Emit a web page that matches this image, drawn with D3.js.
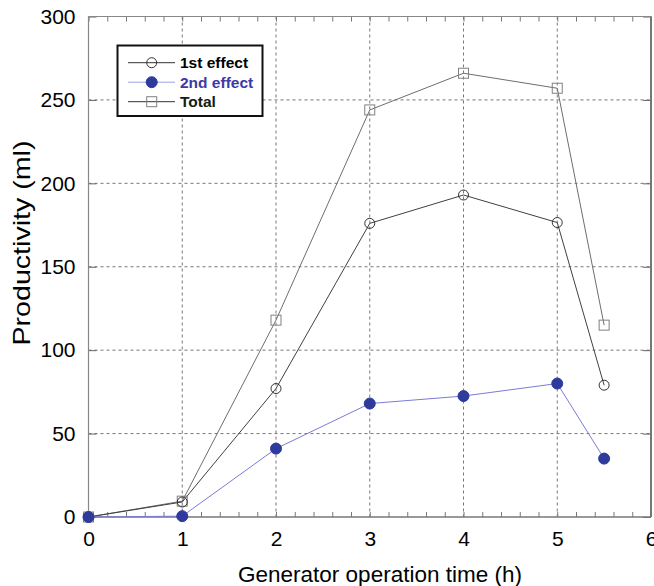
<!DOCTYPE html>
<html><head><meta charset="utf-8">
<script src="https://cdn.jsdelivr.net/npm/d3@7"></script>
<style>body{margin:0;background:#fff}svg{display:block}</style>
</head><body>
<svg id="c" width="654" height="586"></svg>
<script>
const hours = [0, 1, 2, 3, 4, 5, 5.5];
const firstEffect = [0, 9, 77, 176, 193, 176.5, 79];
const secondEffect = [0, 0.5, 41, 68, 72.5, 80, 35];
const total = [0, 9.5, 118, 244, 266, 257, 115];
const xTicks = [0, 1, 2, 3, 4, 5, 6];
const yTicks = [0, 50, 100, 150, 200, 250, 300];
const seriesNames = ["1st effect", "2nd effect", "Total"];

const svg = d3.select("#c");
const L = 88.5, R = 651, T = 16.5, B = 517;
const x = d3.scaleLinear().domain([0, 6]).range([L, R]);
const y = d3.scaleLinear().domain([0, 300]).range([B, T]);
const font = "Liberation Sans, Arial, sans-serif";

// grid
const g = svg.append("g");
g.selectAll(".gx").data(xTicks.slice(1, -1)).enter().append("line")
  .attr("x1", d => x(d)).attr("x2", d => x(d)).attr("y1", T).attr("y2", B)
  .attr("stroke", "#777").attr("stroke-width", 1).attr("stroke-dasharray", "3,3");
g.selectAll(".gy").data(yTicks.slice(1, -1)).enter().append("line")
  .attr("y1", d => y(d)).attr("y2", d => y(d)).attr("x1", L).attr("x2", R)
  .attr("stroke", "#777").attr("stroke-width", 1).attr("stroke-dasharray", "3,3");

// axes via d3
const minor = d3.range(0, 6.001, 0.2);
svg.append("g").attr("transform", `translate(0,${B})`)
  .call(d3.axisTop(x).tickValues(minor).tickSize(5).tickFormat(""))
  .call(s => { s.select(".domain").remove(); s.selectAll("line").attr("stroke", "#777"); });
svg.append("g").attr("transform", `translate(0,${T})`)
  .call(d3.axisBottom(x).tickValues(minor).tickSize(5).tickFormat(""))
  .call(s => { s.select(".domain").remove(); s.selectAll("line").attr("stroke", "#777"); });
svg.append("g").attr("transform", `translate(0,${B})`)
  .call(d3.axisBottom(x).tickValues(xTicks).tickSize(0).tickPadding(14).tickFormat(d3.format("d")))
  .call(s => { s.select(".domain").remove(); s.selectAll("text").attr("font-size", 21).attr("font-family", font).attr("fill", "#000"); });
svg.append("g").attr("transform", `translate(${L},0)`)
  .call(d3.axisRight(y).tickValues(yTicks).tickSize(8).tickFormat(""))
  .call(s => { s.select(".domain").remove(); s.selectAll("line").attr("stroke", "#666"); });
svg.append("g").attr("transform", `translate(${R},0)`)
  .call(d3.axisLeft(y).tickValues(yTicks).tickSize(8).tickFormat(""))
  .call(s => { s.select(".domain").remove(); s.selectAll("line").attr("stroke", "#666"); });
svg.append("g").attr("transform", `translate(${L},0)`)
  .call(d3.axisLeft(y).tickValues(yTicks).tickSize(0).tickPadding(13))
  .call(s => { s.select(".domain").remove(); s.selectAll("text").attr("font-size", 21).attr("font-family", font).attr("fill", "#000"); });

// frame
svg.append("path").attr("d", `M${L},${T}H${R}`).attr("stroke", "#888").attr("stroke-width", 1.2);
svg.append("path").attr("d", `M${L},${B}H${R}`).attr("stroke", "#777").attr("stroke-width", 1.5);
svg.append("path").attr("d", `M${L},${T}V${B}`).attr("stroke", "#888").attr("stroke-width", 1.2);
svg.append("path").attr("d", `M${R},${T}V${B}`).attr("stroke", "#777").attr("stroke-width", 2);

// titles
svg.append("text").attr("x", 380).attr("y", 582).attr("text-anchor", "middle")
  .attr("font-family", font).attr("font-size", 22.5)
  .attr("textLength", 284).attr("lengthAdjust", "spacingAndGlyphs").text("Generator operation time (h)");
svg.append("text").attr("transform", `translate(30,243) rotate(-90)`).attr("text-anchor", "middle")
  .attr("font-family", font).attr("font-size", 24.5)
  .attr("textLength", 205).attr("lengthAdjust", "spacingAndGlyphs").text("Productivity (ml)");

const line = d3.line().x((d, i) => x(hours[i])).y(d => y(d));
const cfg = [
  {data: firstEffect, line: "#404040", leg: "#333", marker: "circle", fill: "#fff", mstroke: "#333", text: "#000"},
  {data: secondEffect, line: "#7b7bd6", leg: "#a0a0e6", marker: "dot", fill: "#2e3a9c", mstroke: "#2e3a9c", text: "#3a3aa8"},
  {data: total, line: "#6e6e6e", leg: "#333", marker: "square", fill: "#fff", mstroke: "#808080", text: "#102010"}
];
function marker(sel, c, cx, cy) {
  if (c.marker === "square") {
    sel.append("rect").attr("x", cx - 5).attr("y", cy - 5).attr("width", 10).attr("height", 10)
      .attr("fill", "none").attr("stroke", c.mstroke).attr("stroke-width", 1);
  } else {
    sel.append("circle").attr("cx", cx).attr("cy", cy).attr("r", c.marker === "dot" ? 5.5 : 5)
      .attr("fill", c.marker === "dot" ? c.fill : "none").attr("stroke", c.mstroke).attr("stroke-width", 1);
  }
}
[2, 0, 1].forEach(k => {
  const c = cfg[k];
  svg.append("path").datum(c.data).attr("d", line).attr("fill", "none")
    .attr("stroke", c.line).attr("stroke-width", 1);
});
[2, 0, 1].forEach(k => {
  const c = cfg[k];
  const mg = svg.append("g");
  c.data.forEach((v, i) => marker(mg, c, x(hours[i]), y(v)));
});

// legend
const lg = svg.append("g");
lg.append("rect").attr("x", 117.5).attr("y", 45.5).attr("width", 145).attr("height", 70.5)
  .attr("fill", "#fff").attr("stroke", "#111").attr("stroke-width", 2);
cfg.forEach((c, i) => {
  const yy = 62.7 + i * 19.5;
  lg.append("line").attr("x1", 128).attr("x2", 175).attr("y1", yy).attr("y2", yy)
    .attr("stroke", c.leg).attr("stroke-width", 1);
  marker(lg, c, 151.7, yy);
  lg.append("text").attr("x", 180).attr("y", yy + 5.5).attr("font-family", font)
    .attr("font-size", 15.5).attr("font-weight", "bold").attr("fill", c.text).text(seriesNames[i]);
});
</script>
</body></html>
